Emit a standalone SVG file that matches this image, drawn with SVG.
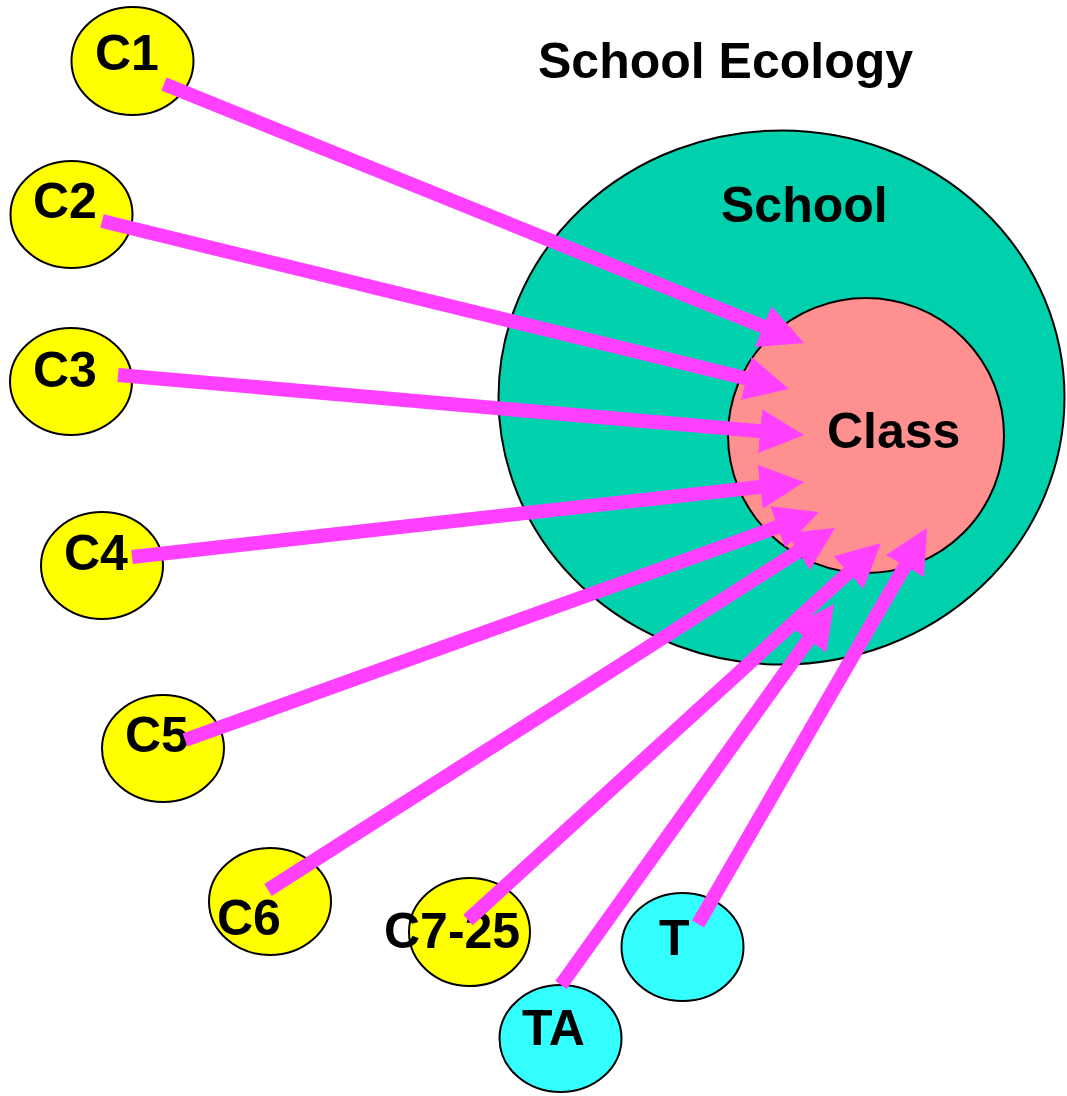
<svg xmlns="http://www.w3.org/2000/svg" width="1067" height="1096" viewBox="0 0 1067 1096">
  <style>
    .lbl { font-family: "Liberation Sans", Arial, sans-serif; font-weight: bold; font-size: 50px; fill: #000; }
    .node { stroke: #000; stroke-width: 2; }
    .kid { fill: #FFFF00; }
    .adult { fill: #33FFFF; }
    .link { stroke: #FF40FF; stroke-width: 14; fill: none; marker-end: url(#head); }
  </style>
  <defs>
    <marker id="head" markerUnits="userSpaceOnUse" viewBox="0 0 44 44" markerWidth="44" markerHeight="44" refX="14" refY="22" orient="auto">
      <path d="M0,0 L44,22 L0,44 z" fill="#FF40FF"/>
    </marker>
  </defs>
  <rect width="1067" height="1096" fill="#fff"/>

  <text class="lbl" x="538" y="78">School Ecology</text>

  <g id="school">
    <ellipse class="node" cx="781.5" cy="397.5" rx="283" ry="267" fill="#00D1AC"/>
    <text class="lbl" x="721" y="222">School</text>
  </g>
  <g id="class">
    <ellipse class="node" cx="866" cy="435.5" rx="138" ry="137.5" fill="#FF9090"/>
    <text class="lbl" x="827" y="448">Class</text>
  </g>

  <g id="c1"><ellipse class="node kid" cx="132.5" cy="61" rx="61" ry="54"/><text class="lbl" x="95" y="70">C1</text></g>
  <g id="c2"><ellipse class="node kid" cx="71.5" cy="214.5" rx="61" ry="53.5"/><text class="lbl" x="33" y="218">C2</text></g>
  <g id="c3"><ellipse class="node kid" cx="71" cy="381.5" rx="61" ry="53.5"/><text class="lbl" x="33" y="387">C3</text></g>
  <g id="c4"><ellipse class="node kid" cx="102" cy="565.5" rx="61" ry="53.5"/><text class="lbl" x="64" y="570">C4</text></g>
  <g id="c5"><ellipse class="node kid" cx="163" cy="748.5" rx="61" ry="53.5"/><text class="lbl" x="125" y="752">C5</text></g>
  <g id="c6"><ellipse class="node kid" cx="270" cy="901.5" rx="61" ry="53.5"/><text class="lbl" x="217" y="935">C6</text></g>
  <g id="c7-25"><ellipse class="node kid" cx="469.5" cy="932" rx="60.5" ry="54"/><text class="lbl" x="384" y="948">C7-25</text></g>
  <g id="ta"><ellipse class="node adult" cx="560.5" cy="1038.5" rx="61" ry="53.5"/><text class="lbl" x="522" y="1045">TA</text></g>
  <g id="t"><ellipse class="node adult" cx="682.5" cy="947" rx="61" ry="54"/><text class="lbl" x="659" y="955">T</text></g>

  <g id="connectors">
    <line class="link" x1="164" y1="84" x2="776.2" y2="331.8"/>
    <line class="link" x1="102" y1="221" x2="759.9" y2="381.8"/>
    <line class="link" x1="118" y1="375" x2="774.1" y2="432.4"/>
    <line class="link" x1="132" y1="557" x2="774.2" y2="485.3"/>
    <line class="link" x1="185" y1="740" x2="790.8" y2="522.2"/>
    <line class="link" x1="268" y1="890" x2="809.7" y2="544.1"/>
    <line class="link" x1="468" y1="920" x2="858.8" y2="563.2"/>
    <line class="link" x1="561" y1="985" x2="816.6" y2="628.4"/>
    <line class="link" x1="698" y1="924" x2="912.0" y2="554.0"/>
  </g>
</svg>
